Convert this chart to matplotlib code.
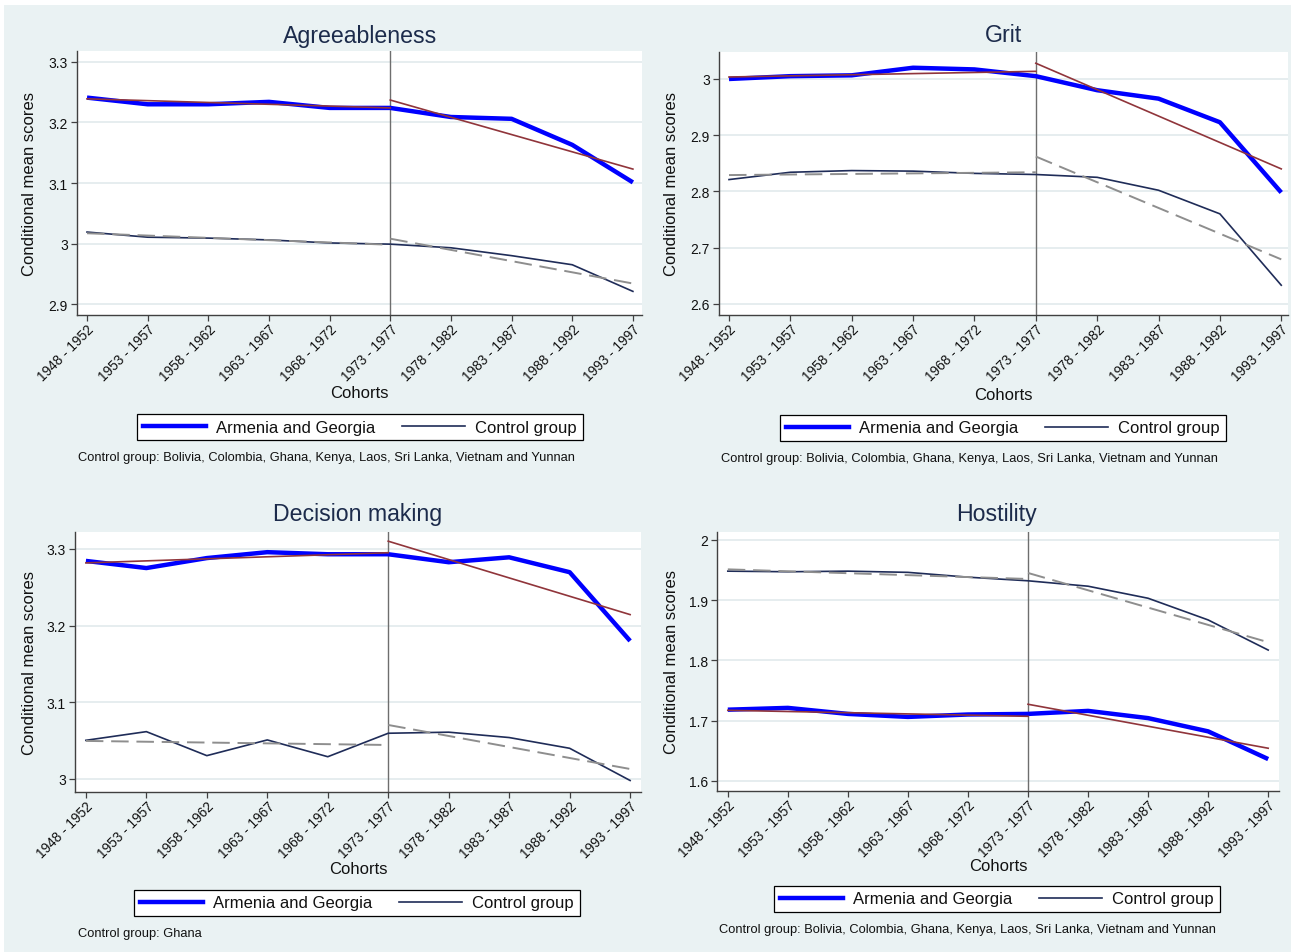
import matplotlib
matplotlib.use("Agg")
import matplotlib.pyplot as plt
from matplotlib.patches import Rectangle
from matplotlib.lines import Line2D

plt.rcParams['font.family'] = ['Liberation Sans', 'DejaVu Sans']

cohorts = ["1948 - 1952", "1953 - 1957", "1958 - 1962", "1963 - 1967", "1968 - 1972",
           "1973 - 1977", "1978 - 1982", "1983 - 1987", "1988 - 1992", "1993 - 1997"]

# Agreeableness
agree_ag = [3.241, 3.230, 3.230, 3.234, 3.224, 3.224, 3.209, 3.206, 3.163, 3.101]
agree_ctrl = [3.019, 3.0105, 3.009, 3.006, 3.001, 2.999, 2.993, 2.980, 2.965, 2.921]
agree_ag_fit = [3.239, 3.224, 3.237, 3.123]      # pre start, pre end, post start, post end
agree_ctrl_fit = [3.017, 2.998, 3.008, 2.934]

# Grit
grit_ag = [3.000, 3.005, 3.0065, 3.020, 3.017, 3.005, 2.980, 2.965, 2.923, 2.798]
grit_ctrl = [2.821, 2.834, 2.837, 2.836, 2.832, 2.830, 2.825, 2.802, 2.760, 2.633]
grit_ag_fit = [3.0035, 3.0136, 3.028, 2.840]
grit_ctrl_fit = [2.829, 2.834, 2.862, 2.679]

# Decision making
dec_ag = [3.2843, 3.275, 3.288, 3.2957, 3.293, 3.293, 3.2826, 3.289, 3.2696, 3.180]
dec_ctrl = [3.0504, 3.0617, 3.0304, 3.0509, 3.029, 3.0596, 3.061, 3.054, 3.040, 2.998]
dec_ag_fit = [3.2817, 3.295, 3.310, 3.2143]
dec_ctrl_fit = [3.0496, 3.0443, 3.0704, 3.013]

# Hostility
host_ag = [1.718, 1.721, 1.711, 1.706, 1.710, 1.711, 1.716, 1.704, 1.682, 1.636]
host_ctrl = [1.948, 1.947, 1.948, 1.946, 1.938, 1.932, 1.923, 1.903, 1.867, 1.817]
host_ag_fit = [1.717, 1.707, 1.727, 1.654]
host_ctrl_fit = [1.951, 1.935, 1.945, 1.830]

notes = ["Control group: Bolivia, Colombia, Ghana, Kenya, Laos, Sri Lanka, Vietnam and Yunnan",
         "Control group: Bolivia, Colombia, Ghana, Kenya, Laos, Sri Lanka, Vietnam and Yunnan",
         "Control group: Ghana",
         "Control group: Bolivia, Colombia, Ghana, Kenya, Laos, Sri Lanka, Vietnam and Yunnan"]

W, H = 1291, 953
BG = "#EAF2F3"
BLUE = "#0000FF"
NAVY = "#1F2C58"
MAROON = "#90353B"
GRAY = "#8E8E8E"
TITLE_C = "#1C2B4B"

fig = plt.figure(figsize=(W / 100, H / 100), dpi=100, facecolor="white")
fig.patches.append(Rectangle((4 / W, 0), 1, 1 - 6 / H, transform=fig.transFigure,
                             facecolor=BG, edgecolor="none", zorder=-10))

def fx(px):
    return px / W

def fy(py):
    return 1 - py / H

panels = [
    dict(title="Agreeableness", ag=agree_ag, ctrl=agree_ctrl, agf=agree_ag_fit, cf=agree_ctrl_fit,
         box=(77, 642, 52, 316), xlim=(-0.165, 9.15), ylim=(2.882, 3.318),
         yticks=[2.9, 3.0, 3.1, 3.2, 3.3],
         title_xy=(360, 36), ylab_x=30, coh_y=394, leg=(360, 428), note_xy=(78, 458), note=notes[0]),
    dict(title="Grit", ag=grit_ag, ctrl=grit_ctrl, agf=grit_ag_fit, cf=grit_ctrl_fit,
         box=(719, 1288, 53, 316), xlim=(-0.163, 9.11), ylim=(2.580, 3.048),
         yticks=[2.6, 2.7, 2.8, 2.9, 3.0],
         title_xy=(1004, 36), ylab_x=672, coh_y=395, leg=(1003, 429), note_xy=(721, 459), note=notes[1]),
    dict(title="Decision making", ag=dec_ag, ctrl=dec_ctrl, agf=dec_ag_fit, cf=dec_ctrl_fit,
         box=(75, 641, 533, 793), xlim=(-0.18, 9.18), ylim=(2.983, 3.322),
         yticks=[3.0, 3.1, 3.2, 3.3],
         title_xy=(358, 515), ylab_x=30, coh_y=870, leg=(357, 904), note_xy=(78, 934), note=notes[2]),
    dict(title="Hostility", ag=host_ag, ctrl=host_ctrl, agf=host_ag_fit, cf=host_ctrl_fit,
         box=(717, 1279, 533, 792), xlim=(-0.18, 9.18), ylim=(1.583, 2.013),
         yticks=[1.6, 1.7, 1.8, 1.9, 2.0],
         title_xy=(997, 515), ylab_x=672, coh_y=867, leg=(997, 900), note_xy=(719, 930), note=notes[3]),
]

x = list(range(len(cohorts)))
brk = 5

for p in panels:
    l, r, t, b = p["box"]
    ax = fig.add_axes([fx(l), fy(b), (r - l) / W, (b - t) / H])
    ax.set_facecolor("white")
    ax.set_xlim(*p["xlim"])
    ax.set_ylim(*p["ylim"])
    ax.set_yticks(p["yticks"])
    ax.set_yticklabels([f"{v:g}" for v in p["yticks"]])
    ax.set_xticks(x)
    ax.set_xticklabels(cohorts, rotation=45, ha="right", va="top", rotation_mode="anchor")
    for yv in p["yticks"]:
        ax.axhline(yv, color="#E4ECEE", lw=1.3, zorder=0)
    for s in ["top", "right"]:
        ax.spines[s].set_visible(False)
    for s in ["left", "bottom"]:
        ax.spines[s].set_color("#404040")
        ax.spines[s].set_linewidth(1.0)
    ax.tick_params(axis="both", direction="out", length=4.5, width=0.9, color="#404040",
                   labelcolor="#111111", pad=2)
    ax.tick_params(axis="y", labelsize=10)
    ax.tick_params(axis="x", labelsize=9.8, pad=0.3)
    ax.axvline(brk, color="#6E6E6E", lw=1.0, zorder=1)

    ax.plot(x, p["ag"], color=BLUE, lw=3.2, zorder=3, solid_capstyle="butt")
    ax.plot(x, p["ctrl"], color=NAVY, lw=1.2, zorder=3)
    agf, cf = p["agf"], p["cf"]
    ax.plot([0, brk], agf[0:2], color=MAROON, lw=1.2, zorder=4)
    ax.plot([brk, 9], agf[2:4], color=MAROON, lw=1.2, zorder=4)
    ax.plot([0, brk], cf[0:2], color=GRAY, lw=1.4, ls=(0, (9, 4)), zorder=4)
    ax.plot([brk, 9], cf[2:4], color=GRAY, lw=1.4, ls=(0, (9, 4)), zorder=4)

    fig.text(fx(p["title_xy"][0]), fy(p["title_xy"][1]), p["title"], ha="center", va="center",
             fontsize=16.7, color=TITLE_C)
    fig.text(fx(p["ylab_x"]), fy((t + b) / 2), "Conditional mean scores", rotation=90,
             ha="center", va="center", fontsize=12, color="#111111")
    fig.text(fx((l + r) / 2), fy(p["coh_y"]), "Cohorts", ha="center", va="center",
             fontsize=12, color="#111111")
    fig.text(fx(p["note_xy"][0]), fy(p["note_xy"][1]), p["note"], ha="left", va="center",
             fontsize=9.3, color="#111111")

    handles = [Line2D([], [], color=BLUE, lw=3.2), Line2D([], [], color=NAVY, lw=1.2)]
    leg = fig.legend(handles, ["Armenia and Georgia", "Control group"], loc="center",
                     bbox_to_anchor=(fx(p["leg"][0]), fy(p["leg"][1])), ncol=2,
                     frameon=True, fancybox=False, edgecolor="black", framealpha=1,
                     fontsize=12, handlelength=3.8, columnspacing=1.6, handletextpad=0.6,
                     borderpad=0.35, borderaxespad=0)
    leg.get_frame().set_linewidth(0.9)
    for txt in leg.get_texts():
        txt.set_color("#111111")

fig.savefig("out.png", dpi=100, facecolor="white")
